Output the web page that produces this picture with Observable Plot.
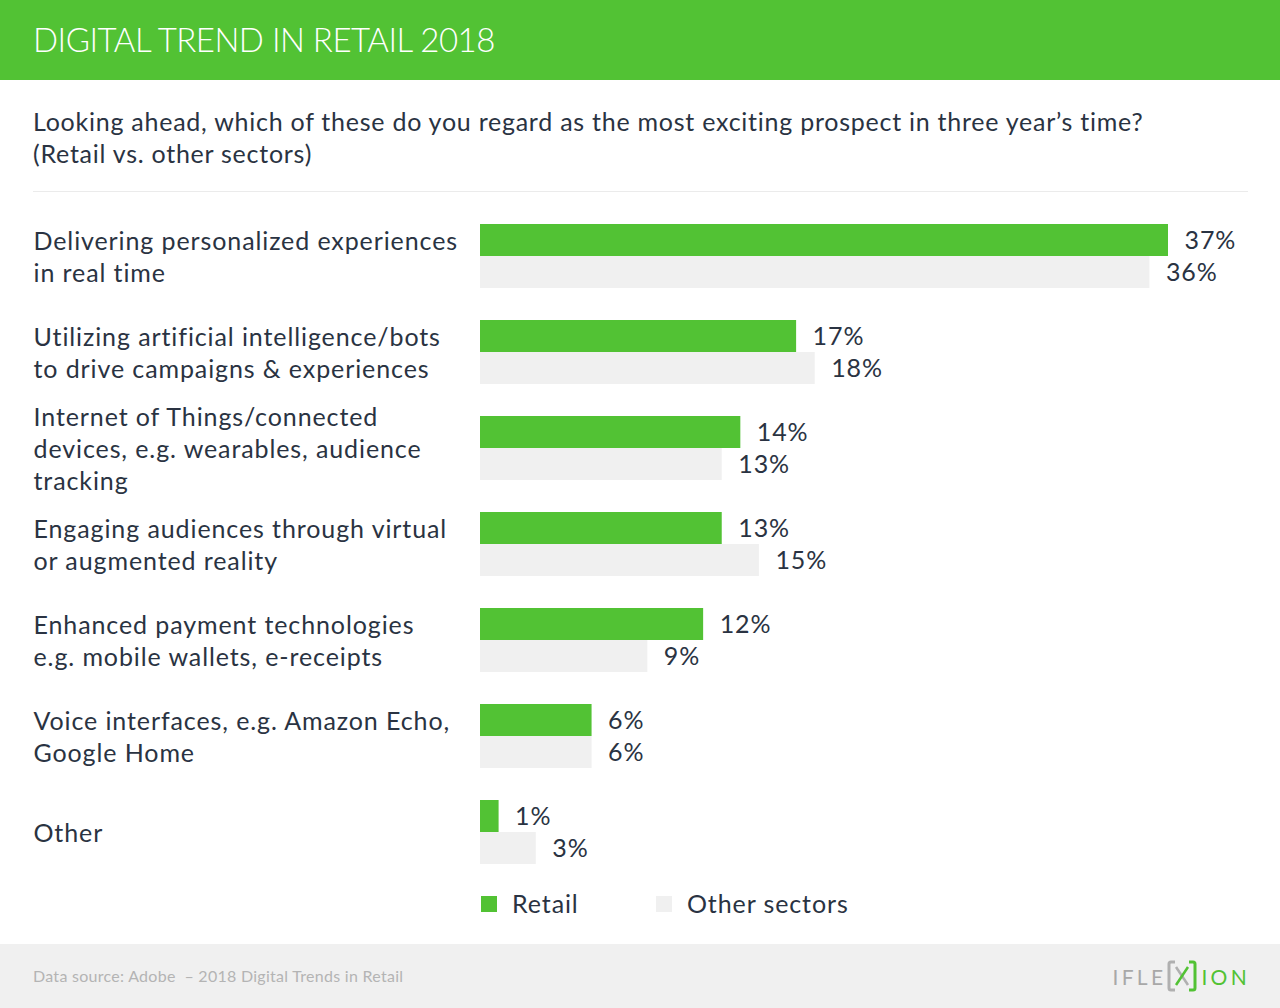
<!DOCTYPE html>
<html>
<head>
<meta charset="utf-8">
<script src="https://cdn.jsdelivr.net/npm/d3@7"></script>
<script src="https://cdn.jsdelivr.net/npm/@observablehq/plot@0.6"></script>
<style>
  html, body { margin: 0; padding: 0; }
  body { width: 1280px; height: 1008px; position: relative; overflow: hidden; background: #fff;
         font-family: Lato, "Noto Sans", sans-serif; color: #2a3342; }
  #header { position: absolute; left: 0; top: 0; width: 1280px; height: 80px; background: #52c234; }
  #title { position: absolute; left: 33px; top: -1px; height: 80px; line-height: 80px; color: #fff;
           font-size: 33px; font-weight: 300; letter-spacing: -0.5px; white-space: nowrap; }
  #subtitle { position: absolute; left: 33px; top: 105px; font-size: 25px; letter-spacing: 0.75px; line-height: 32px; white-space: nowrap; }
  #sep { position: absolute; left: 33px; top: 191px; width: 1215px; height: 1px; background: #ebebeb; }
  #chart { position: absolute; left: 0; top: 192px; }
  #chart text { letter-spacing: 0.9px; }
  #legend { position: absolute; left: 0; top: 887px; height: 32px; width: 1280px; font-size: 25px; letter-spacing: 0.9px; }
  .item { position: absolute; top: 0; height: 32px; line-height: 32px; white-space: nowrap; }
  .sw { position: absolute; top: 9px; width: 16px; height: 16px; }
  #footer { position: absolute; left: 0; top: 944px; width: 1280px; height: 64px; background: #f0f0f0; }
  #source { position: absolute; left: 33px; top: 0; line-height: 64px; font-size: 16px; letter-spacing: 0.28px; color: #b4b4b4; white-space: nowrap; }
  #logo { position: absolute; right: 30px; top: 0; height: 64px; display: flex; align-items: center;
          font-size: 21px; letter-spacing: 3.3px; font-weight: 400; }
</style>
</head>
<body>
<div id="header"><div id="title">DIGITAL TREND IN RETAIL 2018</div></div>
<div id="subtitle">Looking ahead, which of these do you regard as the most exciting prospect in three year’s time?<br>(Retail vs. other sectors)</div>
<div id="sep"></div>
<div id="chart"></div>
<div id="legend"></div>
<div id="footer">
  <div id="source">Data source: Adobe &nbsp;– 2018 Digital Trends in Retail</div>
  <div id="logo">
    <span style="color:#a8a8a8">IFLE</span>
    <svg width="34" height="34" viewBox="0 0 34 34" style="margin:0 2px 0 -1px">
      <path d="M10 3 H6 Q4 3 4 5 V29 Q4 31 6 31 H10" fill="none" stroke="#b0b0b0" stroke-width="3"/>
      <path d="M24 3 H28 Q30 3 30 5 V29 Q30 31 28 31 H24" fill="none" stroke="#52c234" stroke-width="3"/>
      <path d="M11 8 L23 26" stroke="#b0b0b0" stroke-width="2.5"/>
      <path d="M23 8 L11 26" stroke="#52c234" stroke-width="2.5"/>
    </svg>
    <span style="color:#52c234">ION</span>
  </div>
</div>
<script>
const categories = [
  "Delivering personalized experiences\nin real time",
  "Utilizing artificial intelligence/bots\nto drive campaigns & experiences",
  "Internet of Things/connected\ndevices, e.g. wearables, audience\ntracking",
  "Engaging audiences through virtual\nor augmented reality",
  "Enhanced payment technologies\ne.g. mobile wallets, e-receipts",
  "Voice interfaces, e.g. Amazon Echo,\nGoogle Home",
  "Other"
];
const series = ["Retail", "Other sectors"];
const retail = [37, 17, 14, 13, 12, 6, 1];
const otherSectors = [36, 18, 13, 15, 9, 6, 3];
const seriesColors = ["#52c234", "#f0f0f0"];

const rows = [];
categories.forEach((c, i) => {
  rows.push({category: c, series: series[0], value: retail[i]});
  rows.push({category: c, series: series[1], value: otherSectors[i]});
});
const retailRows = rows.filter(d => d.series === series[0]);
const otherRows = rows.filter(d => d.series === series[1]);

const textColor = "#2a3342";
const chart = Plot.plot({
  width: 1280,
  height: 688,
  marginLeft: 480,
  marginRight: 0,
  marginTop: 32,
  marginBottom: 16,
  style: {fontFamily: "Lato, 'Noto Sans', sans-serif", background: "transparent", overflow: "visible"},
  x: {domain: [0, 37], range: [480, 1168], axis: null},
  y: {domain: categories, paddingInner: 1/3, paddingOuter: 0, align: 0.5, axis: null},
  color: {domain: series, range: seriesColors},
  marks: [
    Plot.barX(retailRows, {x: "value", y: "category", fill: "series", insetBottom: 32}),
    Plot.barX(otherRows, {x: "value", y: "category", fill: "series", insetTop: 32}),
    Plot.text(retailRows, {x: "value", y: "category", text: d => d.value + "%", dx: 16, dy: -16,
      textAnchor: "start", fontSize: 25, fill: textColor}),
    Plot.text(otherRows, {x: "value", y: "category", text: d => d.value + "%", dx: 16, dy: 16,
      textAnchor: "start", fontSize: 25, fill: textColor}),
    Plot.text(categories, {y: d => d, text: d => d, frameAnchor: "left", dx: -447, dy: -1,
      textAnchor: "start", lineHeight: 1.28, fontSize: 25, fill: textColor})
  ]
});
document.getElementById("chart").appendChild(chart);

// legend from the plot's color scale
const color = chart.scale("color");
const legend = document.getElementById("legend");
const legendX = [481, 656];
color.domain.forEach((s, i) => {
  const sw = document.createElement("div");
  sw.className = "sw";
  sw.style.left = legendX[i] + "px";
  sw.style.background = color.range[i];
  legend.appendChild(sw);
  const t = document.createElement("div");
  t.className = "item";
  t.style.left = (legendX[i] + 31) + "px";
  t.textContent = s;
  legend.appendChild(t);
});
</script>
</body>
</html>
